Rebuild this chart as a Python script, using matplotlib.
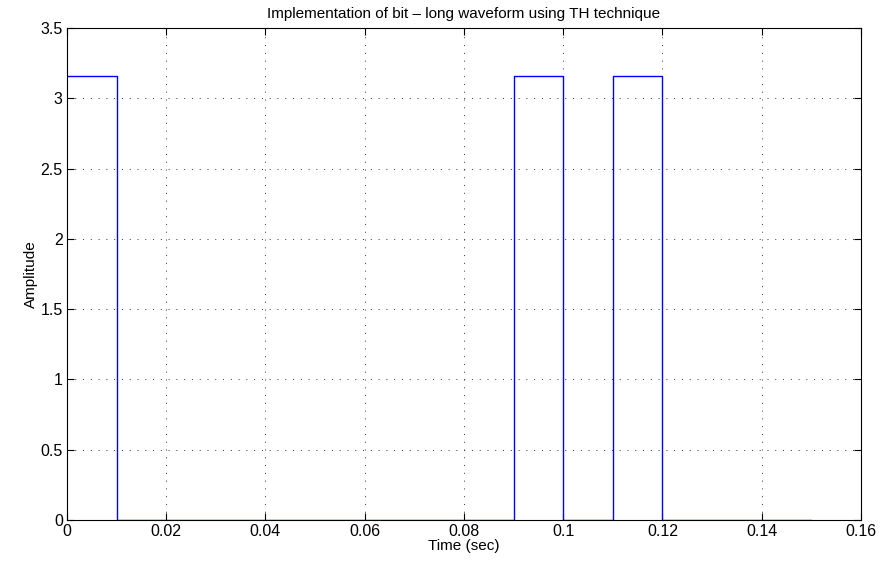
import numpy as np
import matplotlib
matplotlib.use("Agg")
import matplotlib.pyplot as plt

plt.rcParams['font.family'] = ['Liberation Sans', 'DejaVu Sans']

# Slot amplitudes (one slot = 0.01 s), TH pulse positions
slot_duration = 0.01
amplitude = 3.1623
slot_values = [amplitude, 0, 0, 0, 0, 0, 0, 0, 0, amplitude, 0, amplitude, 0, 0, 0]

t = [i * slot_duration for i in range(len(slot_values) + 1)]
y = slot_values + [slot_values[-1]]

x_ticks = [0, 0.02, 0.04, 0.06, 0.08, 0.1, 0.12, 0.14, 0.16]
x_tick_labels = ['0', '0.02', '0.04', '0.06', '0.08', '0.1', '0.12', '0.14', '0.16']
y_ticks = [0, 0.5, 1, 1.5, 2, 2.5, 3, 3.5]
y_tick_labels = ['0', '0.5', '1', '1.5', '2', '2.5', '3', '3.5']

fig = plt.figure(figsize=(8.8, 5.62), dpi=100)
ax = fig.add_axes([0.0761, 0.0747, 0.9023, 0.8753])

ax.plot(t, y, drawstyle='steps-post', color='#0000ff', linewidth=1.0)

ax.set_xlim(0, 0.16)
ax.set_ylim(0, 3.5)
ax.set_xticks(x_ticks)
ax.set_xticklabels(x_tick_labels)
ax.set_yticks(y_ticks)
ax.set_yticklabels(y_tick_labels)

ax.grid(True, linestyle=(0, (1, 7)), color='#333333', linewidth=0.7)
ax.tick_params(direction='in', top=True, right=True, length=5, labelsize=11.5, pad=3)
for s in ax.spines.values():
    s.set_linewidth(0.8)

ax.set_title('Implementation of bit – long waveform using TH technique', fontsize=11, pad=7)
ax.set_xlabel('Time (sec)', fontsize=11, labelpad=0)
ax.set_ylabel('Amplitude', fontsize=11, labelpad=2)

fig.savefig('out.png', dpi=100)
